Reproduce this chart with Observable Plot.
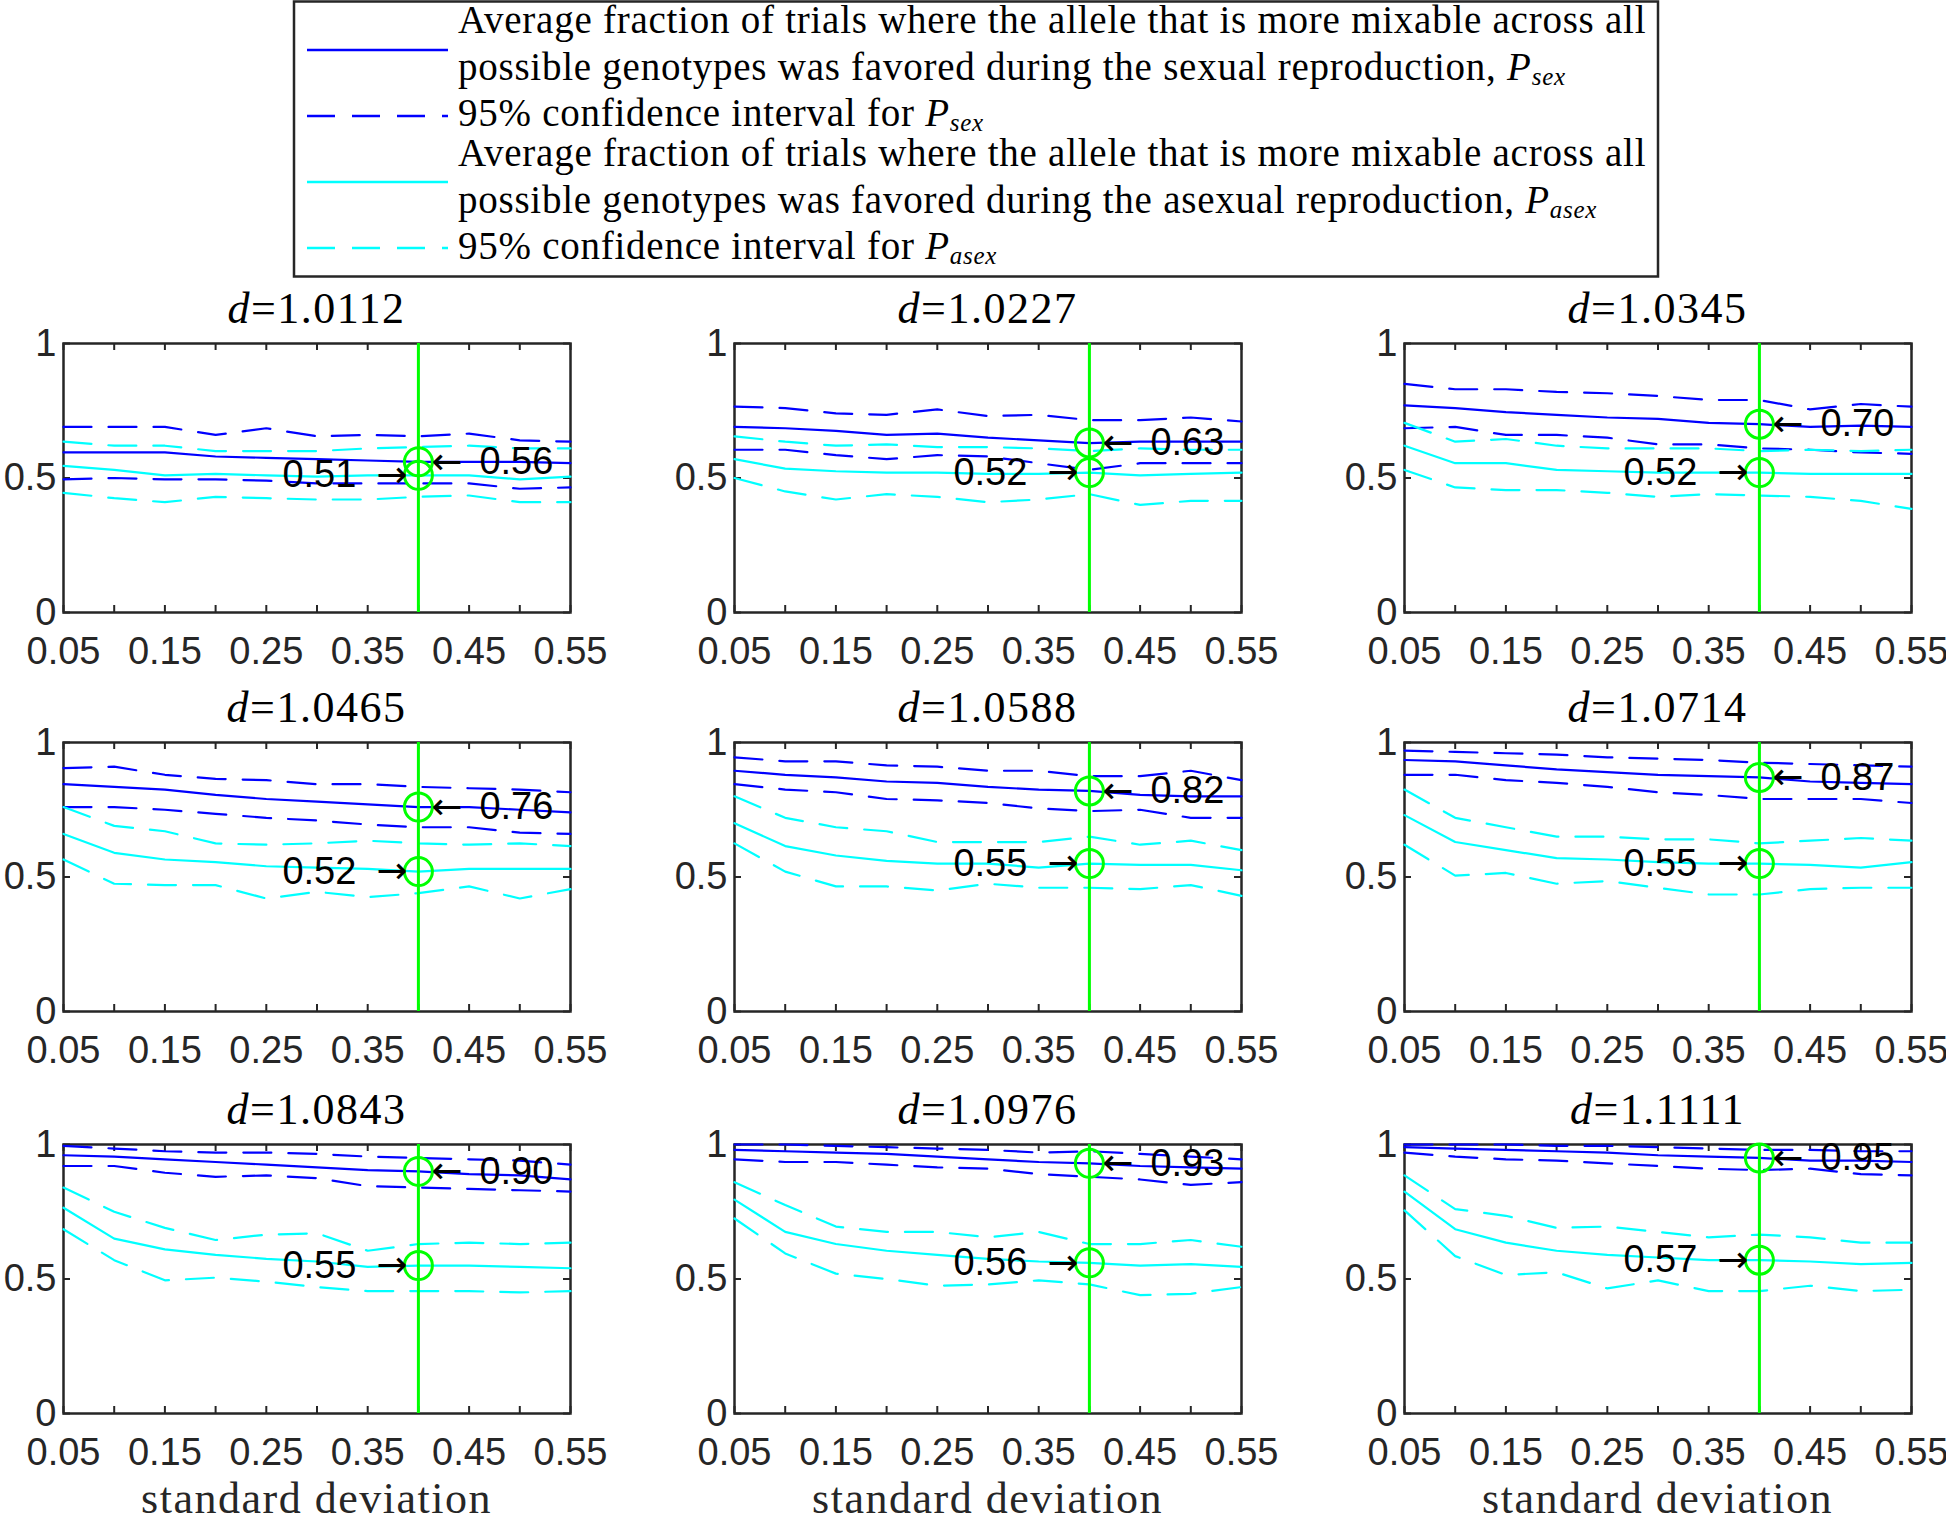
<!DOCTYPE html>
<html>
<head>
<meta charset="utf-8">
<script src="https://cdn.jsdelivr.net/npm/d3@7"></script>
<script src="https://cdn.jsdelivr.net/npm/@observablehq/plot@0.6"></script>
<style>
  html, body { margin: 0; padding: 0; background: #fff; overflow: hidden; }
  #root { position: relative; width: 1946px; height: 1515px; overflow: hidden; background: #fff; }
  #root > svg { position: absolute; overflow: visible; }
</style>
</head>
<body>
<div id="root"></div>
<script>
// ---------------- data ----------------
const sigma = [0.05, 0.10, 0.15, 0.20, 0.25, 0.30, 0.35, 0.40, 0.45, 0.50, 0.55];
const xTicks = [0.05, 0.10, 0.15, 0.20, 0.25, 0.30, 0.35, 0.40, 0.45, 0.50, 0.55];
const xLabelTicks = [0.05, 0.15, 0.25, 0.35, 0.45, 0.55];
const xTickLabels = ["0.05", "0.15", "0.25", "0.35", "0.45", "0.55"];
const yTicks = [0, 0.5, 1];
const yTickLabels = ["0", "0.5", "1"];
const dValues = ["1.0112", "1.0227", "1.0345", "1.0465", "1.0588", "1.0714", "1.0843", "1.0976", "1.1111"];
const markerSigma = 0.40;
const sexMark  = [0.56, 0.63, 0.70, 0.76, 0.82, 0.87, 0.90, 0.93, 0.95];
const asexMark = [0.51, 0.52, 0.52, 0.52, 0.55, 0.55, 0.55, 0.56, 0.57];

// P_sex: mean and 95% CI (upper / lower), one row per panel
const sexHi = [
  [0.690, 0.690, 0.690, 0.660, 0.685, 0.655, 0.660, 0.655, 0.665, 0.640, 0.635],
  [0.765, 0.760, 0.740, 0.735, 0.755, 0.730, 0.735, 0.715, 0.715, 0.725, 0.710],
  [0.850, 0.830, 0.830, 0.820, 0.815, 0.805, 0.790, 0.790, 0.755, 0.775, 0.765],
  [0.905, 0.910, 0.880, 0.865, 0.860, 0.845, 0.845, 0.835, 0.830, 0.825, 0.815],
  [0.945, 0.930, 0.930, 0.915, 0.910, 0.895, 0.895, 0.875, 0.875, 0.895, 0.860],
  [0.970, 0.965, 0.960, 0.955, 0.945, 0.940, 0.935, 0.925, 0.920, 0.915, 0.910],
  [0.995, 0.985, 0.975, 0.970, 0.970, 0.965, 0.955, 0.950, 0.945, 0.940, 0.925],
  [1.000, 1.000, 0.995, 0.990, 0.985, 0.980, 0.970, 0.975, 0.965, 0.955, 0.945],
  [1.000, 1.000, 1.000, 0.995, 0.995, 0.990, 0.985, 0.980, 0.980, 0.975, 0.975]
];
const sexMean = [
  [0.595, 0.595, 0.595, 0.580, 0.575, 0.570, 0.565, 0.560, 0.560, 0.560, 0.555],
  [0.690, 0.685, 0.675, 0.660, 0.665, 0.650, 0.640, 0.630, 0.635, 0.635, 0.635],
  [0.770, 0.760, 0.745, 0.735, 0.725, 0.720, 0.705, 0.700, 0.690, 0.695, 0.690],
  [0.845, 0.835, 0.825, 0.805, 0.790, 0.780, 0.770, 0.760, 0.760, 0.750, 0.740],
  [0.895, 0.880, 0.870, 0.855, 0.850, 0.835, 0.825, 0.820, 0.805, 0.800, 0.800],
  [0.935, 0.930, 0.915, 0.900, 0.890, 0.880, 0.875, 0.870, 0.855, 0.850, 0.845],
  [0.960, 0.955, 0.945, 0.935, 0.925, 0.915, 0.905, 0.900, 0.890, 0.885, 0.870],
  [0.980, 0.975, 0.970, 0.965, 0.955, 0.945, 0.935, 0.930, 0.920, 0.915, 0.910],
  [0.990, 0.985, 0.980, 0.975, 0.970, 0.960, 0.955, 0.950, 0.940, 0.940, 0.935]
];
const sexLo = [
  [0.495, 0.500, 0.495, 0.495, 0.490, 0.480, 0.480, 0.480, 0.480, 0.460, 0.465],
  [0.605, 0.605, 0.585, 0.570, 0.585, 0.580, 0.555, 0.530, 0.555, 0.555, 0.555],
  [0.685, 0.690, 0.660, 0.660, 0.650, 0.625, 0.625, 0.610, 0.605, 0.595, 0.590],
  [0.760, 0.760, 0.750, 0.735, 0.720, 0.710, 0.695, 0.685, 0.685, 0.665, 0.660],
  [0.845, 0.825, 0.815, 0.790, 0.785, 0.775, 0.755, 0.745, 0.750, 0.720, 0.720],
  [0.880, 0.880, 0.860, 0.850, 0.835, 0.815, 0.805, 0.790, 0.790, 0.790, 0.775],
  [0.920, 0.920, 0.895, 0.880, 0.885, 0.875, 0.845, 0.840, 0.835, 0.830, 0.825],
  [0.945, 0.935, 0.935, 0.925, 0.915, 0.910, 0.890, 0.880, 0.870, 0.850, 0.860],
  [0.970, 0.955, 0.945, 0.940, 0.930, 0.920, 0.910, 0.905, 0.910, 0.890, 0.885]
];
// P_asex: mean and 95% CI (upper / lower), one row per panel
const asexHi = [
  [0.635, 0.620, 0.620, 0.600, 0.600, 0.600, 0.610, 0.615, 0.620, 0.610, 0.610],
  [0.655, 0.635, 0.620, 0.625, 0.615, 0.615, 0.610, 0.600, 0.610, 0.605, 0.605],
  [0.705, 0.635, 0.645, 0.620, 0.610, 0.610, 0.610, 0.600, 0.605, 0.600, 0.605],
  [0.760, 0.690, 0.670, 0.625, 0.620, 0.625, 0.635, 0.625, 0.620, 0.625, 0.615],
  [0.800, 0.720, 0.685, 0.670, 0.630, 0.630, 0.630, 0.650, 0.620, 0.635, 0.600],
  [0.825, 0.720, 0.685, 0.650, 0.650, 0.640, 0.640, 0.625, 0.635, 0.645, 0.635],
  [0.840, 0.750, 0.690, 0.645, 0.665, 0.670, 0.605, 0.630, 0.635, 0.630, 0.635],
  [0.860, 0.775, 0.695, 0.675, 0.675, 0.655, 0.675, 0.630, 0.630, 0.645, 0.620],
  [0.885, 0.760, 0.735, 0.690, 0.695, 0.675, 0.655, 0.665, 0.655, 0.635, 0.635]
];
const asexMean = [
  [0.545, 0.530, 0.510, 0.515, 0.510, 0.505, 0.510, 0.510, 0.510, 0.495, 0.505],
  [0.570, 0.535, 0.525, 0.520, 0.520, 0.515, 0.515, 0.520, 0.510, 0.515, 0.520],
  [0.620, 0.555, 0.555, 0.530, 0.525, 0.520, 0.520, 0.520, 0.515, 0.515, 0.515],
  [0.660, 0.590, 0.565, 0.555, 0.540, 0.535, 0.530, 0.520, 0.530, 0.530, 0.530],
  [0.700, 0.615, 0.580, 0.560, 0.550, 0.550, 0.535, 0.550, 0.545, 0.545, 0.525],
  [0.730, 0.630, 0.600, 0.570, 0.565, 0.555, 0.550, 0.550, 0.545, 0.535, 0.555],
  [0.765, 0.650, 0.610, 0.590, 0.575, 0.565, 0.545, 0.550, 0.550, 0.545, 0.540],
  [0.795, 0.675, 0.630, 0.605, 0.590, 0.575, 0.565, 0.560, 0.550, 0.555, 0.545],
  [0.825, 0.685, 0.635, 0.605, 0.590, 0.580, 0.570, 0.570, 0.565, 0.555, 0.560]
];
const asexLo = [
  [0.445, 0.425, 0.410, 0.430, 0.425, 0.420, 0.420, 0.430, 0.435, 0.410, 0.410],
  [0.500, 0.450, 0.420, 0.440, 0.430, 0.410, 0.420, 0.440, 0.400, 0.415, 0.415],
  [0.530, 0.465, 0.455, 0.455, 0.445, 0.430, 0.440, 0.435, 0.430, 0.415, 0.385],
  [0.565, 0.475, 0.470, 0.470, 0.420, 0.445, 0.425, 0.440, 0.465, 0.420, 0.455],
  [0.625, 0.520, 0.465, 0.465, 0.450, 0.475, 0.460, 0.460, 0.455, 0.470, 0.430],
  [0.620, 0.505, 0.515, 0.475, 0.485, 0.460, 0.435, 0.435, 0.455, 0.460, 0.460],
  [0.685, 0.570, 0.495, 0.505, 0.490, 0.470, 0.455, 0.455, 0.455, 0.450, 0.455],
  [0.725, 0.595, 0.520, 0.500, 0.475, 0.480, 0.495, 0.480, 0.440, 0.445, 0.470],
  [0.755, 0.585, 0.515, 0.525, 0.465, 0.495, 0.455, 0.455, 0.475, 0.455, 0.460]
];

// ---------------- layout / style ----------------
const root = document.getElementById("root");
const FL = [63, 734, 1404];     // frame left per column
const FT = [343, 742, 1144];    // frame top per row
const W = 507, H = 269;
const ML = 80, MR = 50, MT = 10, MB = 70;
const BLUE = "#0000ff", CYAN = "#00ffff", GREEN = "#00ff00", AX = "#262626";
const DASH = "28,17";
const LW = 2.2;
const TICK = 7;
const SANS = '"Liberation Sans", Arial, Helvetica, sans-serif';
const ARROWFONT = '"DejaVu Sans", sans-serif';

for (let i = 0; i < 9; i++) {
  const r = Math.floor(i / 3), c = i % 3;
  const rows = sigma.map((s, k) => ({
    s,
    sm: sexMean[i][k], sl: sexLo[i][k], sh: sexHi[i][k],
    am: asexMean[i][k], al: asexLo[i][k], ah: asexHi[i][k]
  }));
  const circles = [
    {s: markerSigma, v: sexMark[i]},
    {s: markerSigma, v: asexMark[i]}
  ];
  const sexLabel = [{s: markerSigma, v: sexMark[i], t: sexMark[i].toFixed(2)}];
  const asexLabel = [{s: markerSigma, v: asexMark[i], t: asexMark[i].toFixed(2)}];

  const svg = Plot.plot({
    width: ML + W + MR,
    height: MT + H + MB,
    marginLeft: ML, marginRight: MR, marginTop: MT, marginBottom: MB,
    x: {domain: [0.05, 0.55], label: null},
    y: {domain: [0, 1], label: null},
    style: {
      fontFamily: SANS,
      fontSize: "38px",
      color: AX,
      background: "transparent",
      overflow: "visible"
    },
    marks: [
      Plot.frame({stroke: AX, strokeWidth: 2.5}),
      // inward ticks on all four sides
      Plot.ruleX(xTicks, {x: d => d, stroke: AX, strokeWidth: 2, insetTop: H - TICK}),
      Plot.ruleX(xTicks, {x: d => d, stroke: AX, strokeWidth: 2, insetBottom: H - TICK}),
      Plot.ruleY(yTicks, {y: d => d, stroke: AX, strokeWidth: 2, insetRight: W - TICK}),
      Plot.ruleY(yTicks, {y: d => d, stroke: AX, strokeWidth: 2, insetLeft: W - TICK}),
      Plot.axisX({ticks: xLabelTicks, tickSize: 0, tickPadding: 25,
        tickFormat: d => xTickLabels[xLabelTicks.indexOf(d)], fill: AX}),
      Plot.axisY({ticks: yTicks, tickSize: 0, tickPadding: 7,
        tickFormat: d => yTickLabels[yTicks.indexOf(d)], fill: AX}),
      // P_sex
      Plot.line(rows, {x: "s", y: "sh", stroke: BLUE, strokeWidth: LW, strokeDasharray: DASH}),
      Plot.line(rows, {x: "s", y: "sl", stroke: BLUE, strokeWidth: LW, strokeDasharray: DASH}),
      Plot.line(rows, {x: "s", y: "sm", stroke: BLUE, strokeWidth: LW}),
      // P_asex
      Plot.line(rows, {x: "s", y: "ah", stroke: CYAN, strokeWidth: LW, strokeDasharray: DASH}),
      Plot.line(rows, {x: "s", y: "al", stroke: CYAN, strokeWidth: LW, strokeDasharray: DASH}),
      Plot.line(rows, {x: "s", y: "am", stroke: CYAN, strokeWidth: LW}),
      // marker line & circles
      Plot.ruleX([markerSigma], {x: d => d, stroke: GREEN, strokeWidth: 3}),
      Plot.dot(circles, {x: "s", y: "v", r: 14, stroke: GREEN, strokeWidth: 3, fill: "none"}),
      // annotations: arrow glyph + value
      Plot.text(sexLabel, {x: "s", y: "v", text: () => "\u2190", textAnchor: "start", dx: 13,
        fill: "#000", fontSize: 37, fontFamily: ARROWFONT}),
      Plot.text(sexLabel, {x: "s", y: "v", text: "t", textAnchor: "start", dx: 61,
        fill: "#000", fontSize: 38}),
      Plot.text(asexLabel, {x: "s", y: "v", text: () => "\u2192", textAnchor: "end", dx: -11,
        fill: "#000", fontSize: 37, fontFamily: ARROWFONT}),
      Plot.text(asexLabel, {x: "s", y: "v", text: "t", textAnchor: "end", dx: -62,
        fill: "#000", fontSize: 38})
    ]
  });
  svg.style.left = (FL[c] - ML) + "px";
  svg.style.top = (FT[r] - MT) + "px";
  root.appendChild(svg);
}

// ---------------- overlay: legend, titles, x labels ----------------
const ov = d3.select(root).append("svg")
  .attr("width", 1946).attr("height", 1515)
  .style("left", "0px").style("top", "0px")
  .style("pointer-events", "none");

const SERIF = '"Liberation Serif", "Times New Roman", serif';

// panel titles
for (let i = 0; i < 9; i++) {
  const r = Math.floor(i / 3), c = i % 3;
  const t = ov.append("text")
    .attr("x", FL[c] + W / 2).attr("y", FT[r] - 20)
    .attr("text-anchor", "middle")
    .attr("font-family", SERIF).attr("font-size", 44)
    .attr("letter-spacing", 1.5)
    .attr("fill", "#000");
  t.append("tspan").attr("font-style", "italic").text("d");
  t.append("tspan").text("=" + dValues[i]);
}
// x labels
for (let c = 0; c < 3; c++) {
  ov.append("text")
    .attr("x", FL[c] + W / 2).attr("y", 1513)
    .attr("text-anchor", "middle")
    .attr("font-family", SERIF).attr("font-size", 44)
    .attr("letter-spacing", 1.5)
    .attr("fill", AX)
    .text("standard deviation");
}

// legend
const leg = ov.append("g");
leg.append("rect")
  .attr("x", 294).attr("y", 1.5).attr("width", 1364).attr("height", 275)
  .attr("fill", "#fff").attr("stroke", AX).attr("stroke-width", 2.5);

const legendSamples = [
  {y: 50, color: BLUE, dash: null},
  {y: 116, color: BLUE, dash: DASH},
  {y: 182, color: CYAN, dash: null},
  {y: 248, color: CYAN, dash: DASH}
];
legendSamples.forEach(s => {
  leg.append("line")
    .attr("x1", 307).attr("x2", 448).attr("y1", s.y).attr("y2", s.y)
    .attr("stroke", s.color).attr("stroke-width", 2.4)
    .attr("stroke-dasharray", s.dash);
});

const legendLines = [
  {y: 33, text: "Average fraction of trials where the allele that is more mixable across all", sub: null},
  {y: 80, text: "possible genotypes was favored during the sexual reproduction, ", sub: "sex"},
  {y: 126, text: "95% confidence interval for ", sub: "sex"},
  {y: 166, text: "Average fraction of trials where the allele that is more mixable across all", sub: null},
  {y: 213, text: "possible genotypes was favored during the asexual reproduction, ", sub: "asex"},
  {y: 259, text: "95% confidence interval for ", sub: "asex"}
];
legendLines.forEach(l => {
  const t = leg.append("text")
    .attr("x", 458).attr("y", l.y)
    .attr("font-family", SERIF).attr("font-size", 39)
    .attr("letter-spacing", 0.75)
    .attr("fill", "#000")
    .attr("xml:space", "preserve");
  t.append("tspan").text(l.text);
  if (l.sub) {
    t.append("tspan").attr("font-style", "italic").text("P");
    t.append("tspan").attr("font-style", "italic").attr("font-size", 25).attr("dy", 5).text(l.sub);
  }
});
</script>
</body>
</html>
